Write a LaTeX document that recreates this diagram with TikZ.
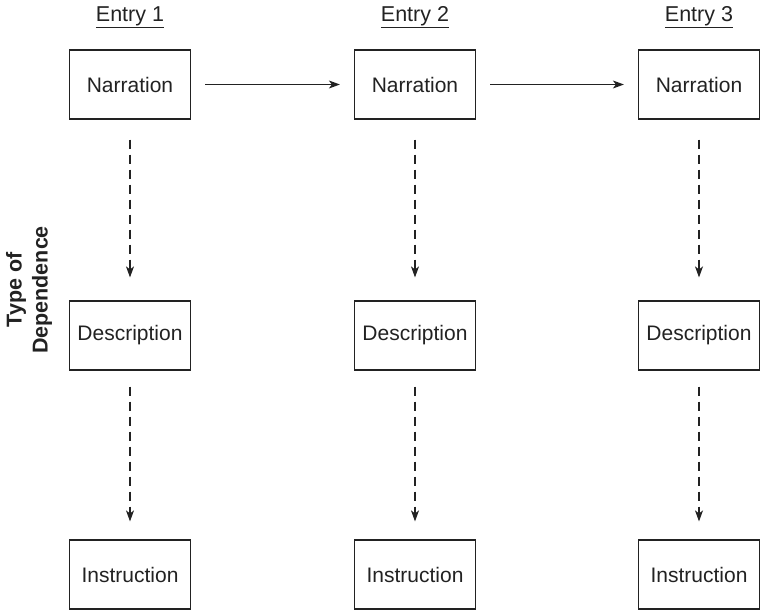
\documentclass[tikz,border=0pt]{standalone}
\usepackage{fontspec}
\setmainfont{Liberation Sans}
\usetikzlibrary{arrows.meta}
\definecolor{ink}{HTML}{222222}
\begin{document}
\begin{tikzpicture}[x=1pt,y=-1pt,
  box/.style={draw=ink,line width=1.2pt,minimum width=121pt,minimum height=69pt,inner sep=0pt,font=\fontsize{21}{25}\selectfont,text=ink},
  head/.style={font=\fontsize{21.5}{25}\selectfont,text=ink},
  solidarrow/.style={draw=ink,line width=1.1pt,-{Stealth[length=11pt,width=8pt,inset=3pt]},shorten <=14pt,shorten >=14pt},
  dasharrow/.style={draw=ink,line width=1.1pt,dash pattern=on 9pt off 6pt,-{Stealth[length=11pt,width=8pt,inset=3pt]}}
]
\useasboundingbox (0,0) rectangle (760,610);
% headers
\node[head] (e1) at (130,17) {\underline{Entry 1}};
\node[head] (e2) at (415,17) {\underline{Entry 2}};
\node[head] (e3) at (699,17) {\underline{Entry 3}};
% side label
\node[head,rotate=90,align=center,font=\fontsize{21.5}{26}\selectfont\bfseries] (dep) at (29,290) {Type of\\Dependence};
% boxes
\node[box] (n1) at (130,84.5) {Narration};
\node[box] (n2) at (415,84.5) {Narration};
\node[box] (n3) at (699,84.5) {Narration};
\node[box] (d1) at (130,335.5) {Description};
\node[box] (d2) at (415,335.5) {Description};
\node[box] (d3) at (699,335.5) {Description};
\node[box] (i1) at (130,574.5) {Instruction};
\node[box] (i2) at (415,574.5) {Instruction};
\node[box] (i3) at (699,574.5) {Instruction};
% solid arrows
\draw[solidarrow] (n1) -- (n2);
\draw[solidarrow] (n2) -- (n3);
% dashed arrows
\foreach \c in {1,2,3}{
  \draw[dasharrow,shorten <=20pt,shorten >=23pt] (n\c.south) -- (d\c.north);
  \draw[dasharrow,shorten <=16pt,shorten >=18pt] (d\c.south) -- (i\c.north);
}
\end{tikzpicture}
\end{document}
